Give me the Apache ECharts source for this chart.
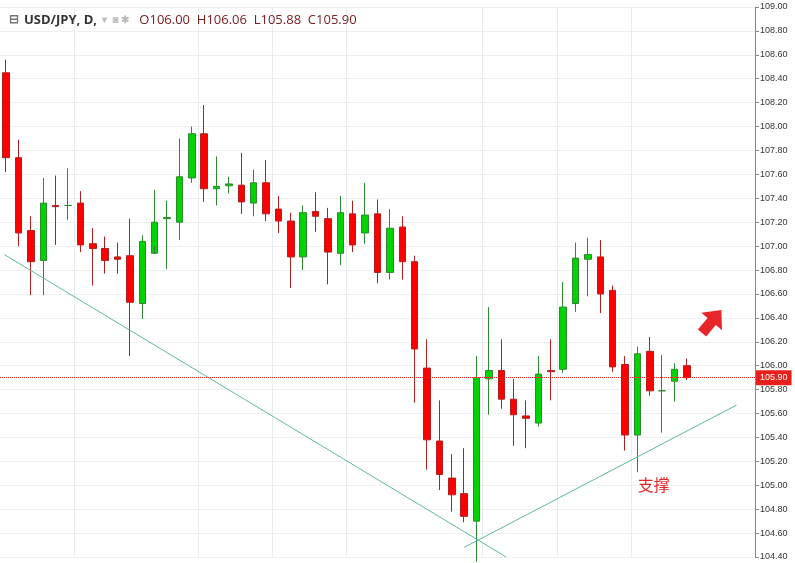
<!DOCTYPE html>
<html>
<head>
<meta charset="utf-8">
<script src="https://cdn.jsdelivr.net/npm/echarts@6/dist/echarts.min.js"></script>
<style>html,body{margin:0;padding:0;background:#fff}#main{width:795px;height:563px}</style>
</head>
<body>
<div id="main"></div>
<script>
// 日K数据 [open, close, low, high]
const opens  = [108.45,107.74,107.13,106.88,107.34,107.34,107.36,107.02,106.98,106.91,106.92,106.52,106.94,107.23,107.20,107.57,107.94,107.48,107.505,107.51,107.36,107.53,107.31,107.21,106.91,107.29,107.23,106.94,107.27,107.11,107.27,106.78,107.16,106.87,105.98,105.37,105.06,104.93,104.70,105.89,105.96,105.72,105.58,105.52,105.96,105.97,106.52,106.89,106.91,106.63,106.01,105.42,106.12,105.79,105.87,106.00]
const closes = [107.74,107.11,106.87,107.36,107.33,107.34,107.01,106.98,106.88,106.89,106.53,107.04,107.20,107.24,107.58,107.94,107.48,107.50,107.52,107.37,107.53,107.27,107.21,106.91,107.28,107.25,106.95,107.28,107.01,107.26,106.78,107.15,106.87,106.14,105.38,105.09,104.92,104.74,105.90,105.96,105.72,105.59,105.56,105.93,105.95,106.49,106.90,106.93,106.60,105.99,105.42,106.10,105.79,105.79,105.97,105.90]
const lows   = [107.62,107.00,106.59,106.59,107.01,107.22,106.95,106.67,106.77,106.77,106.08,106.39,107.00,106.81,107.05,107.53,107.37,107.34,107.44,107.27,107.25,107.21,107.11,106.65,106.80,107.12,106.68,106.84,106.95,107.02,106.69,106.72,106.72,105.69,105.13,104.96,104.78,104.69,104.36,105.59,105.64,105.33,105.31,105.49,105.71,105.94,106.45,106.58,106.44,105.95,105.29,105.11,105.75,105.44,105.70,105.88]
const highs  = [108.56,107.89,107.25,107.57,107.59,107.65,107.46,107.15,107.08,107.03,107.23,107.09,107.47,107.38,107.90,108.00,108.18,107.75,107.58,107.78,107.64,107.72,107.42,107.28,107.34,107.45,107.32,107.42,107.38,107.53,107.39,107.31,107.25,106.92,106.22,105.71,105.26,105.31,106.08,106.49,106.22,105.89,105.71,106.08,106.22,106.70,107.03,107.07,107.05,106.67,106.08,106.16,106.24,106.09,106.02,106.06]
const lastPrice = 105.90
// 趋势线 [index, price]
const resistLine = [[-0.16, 106.93], [40.4, 104.40]]
const supportLine = [[37.0, 104.48], [59.0, 105.67]]
const gridIdx = [6, 16, 22, 28, 39, 45, 51]

const cats = []
for (let i = 0; i < 61; i++) cats.push(String(i))
const kData = opens.map((o, i) => [o, closes[i], lows[i], highs[i]])

const chart = echarts.init(document.getElementById('main'))
chart.setOption({
  backgroundColor: '#fff',
  animation: false,
  title: {
    left: 4, top: 6,
    text: '{ic|⊟} {b|USD/JPY, D,} {g|▾  ◙ ✱}  {v|O106.00  H106.06  L105.88  C105.90}',
    textStyle: {
      rich: {
        ic: {fontSize: 12, color: '#777'},
        b: {fontSize: 13, fontWeight: 'bold', color: '#333', fontFamily: 'Open Sans'},
        g: {fontSize: 10, color: '#bbb'},
        v: {fontSize: 13, fontWeight: 'normal', color: '#7a2020', fontFamily: 'Open Sans'}
      }
    }
  },
  grid: {left: -4, right: 40, top: 7, bottom: 6},
  xAxis: [{
    type: 'category', data: cats, boundaryGap: true,
    axisLine: {show: false}, axisTick: {show: false}, axisLabel: {show: false},
    splitLine: {show: true, interval: (i) => gridIdx.includes(i), lineStyle: {color: '#e6ecef'}}
  }, {
    type: 'value', min: -0.5, max: 60.5, show: false
  }],
  yAxis: {
    type: 'value', position: 'right', min: 104.4, max: 109.0, interval: 0.2,
    axisLine: {show: true, onZero: false, lineStyle: {color: '#888'}},
    axisTick: {show: true, length: 4, lineStyle: {color: '#888'}},
    axisLabel: {fontSize: 9, color: '#333', margin: 5, formatter: v => v.toFixed(2)},
    splitLine: {lineStyle: {color: '#eef1f3'}}
  },
  series: [{
    type: 'candlestick', data: kData, barWidth: 7,
    itemStyle: {
      color: '#00d400', color0: '#ff0000',
      borderColor: '#2f8a2f', borderColor0: '#b02020', borderWidth: 1
    },
    markLine: {
      symbol: 'none', silent: true,
      lineStyle: {color: '#ff2020', type: 'dotted', width: 1, opacity: 1},
      label: {
        position: 'end', formatter: lastPrice.toFixed(2), color: '#fff',
        backgroundColor: '#e8201c', padding: [3, 4], fontSize: 9, distance: 1
      },
      emphasis: {disabled: true},
      data: [{yAxis: lastPrice, lineStyle: {color: '#ff2020'}}]
    },
    markPoint: {
      silent: true,
      data: [
        {coord: ['57', 106.37], symbol: 'path://M5,0 L10,5 L7,5 L7,10 L3,10 L3,5 L0,5 Z',
          symbolSize: [27, 30], symbolRotate: -40,
          itemStyle: {color: '#e8262a'}, label: {show: false}},
        {coord: ['52', 105.0], symbol: 'rect', symbolSize: 1, itemStyle: {color: 'transparent'},
          label: {show: true, formatter: '支撑', color: '#e8262a', fontSize: 16,
            fontFamily: 'Noto Sans CJK SC', offset: [4, 0]}}
      ]
    }
  }, {
    type: 'line', xAxisIndex: 1, data: resistLine, symbol: 'none', silent: true,
    lineStyle: {color: '#5fb8a0', width: 1}
  }, {
    type: 'line', xAxisIndex: 1, data: supportLine, symbol: 'none', silent: true,
    lineStyle: {color: '#5fb8a0', width: 1}
  }]
})
window.addEventListener('resize', function () { chart.resize() })
</script>
</body>
</html>
